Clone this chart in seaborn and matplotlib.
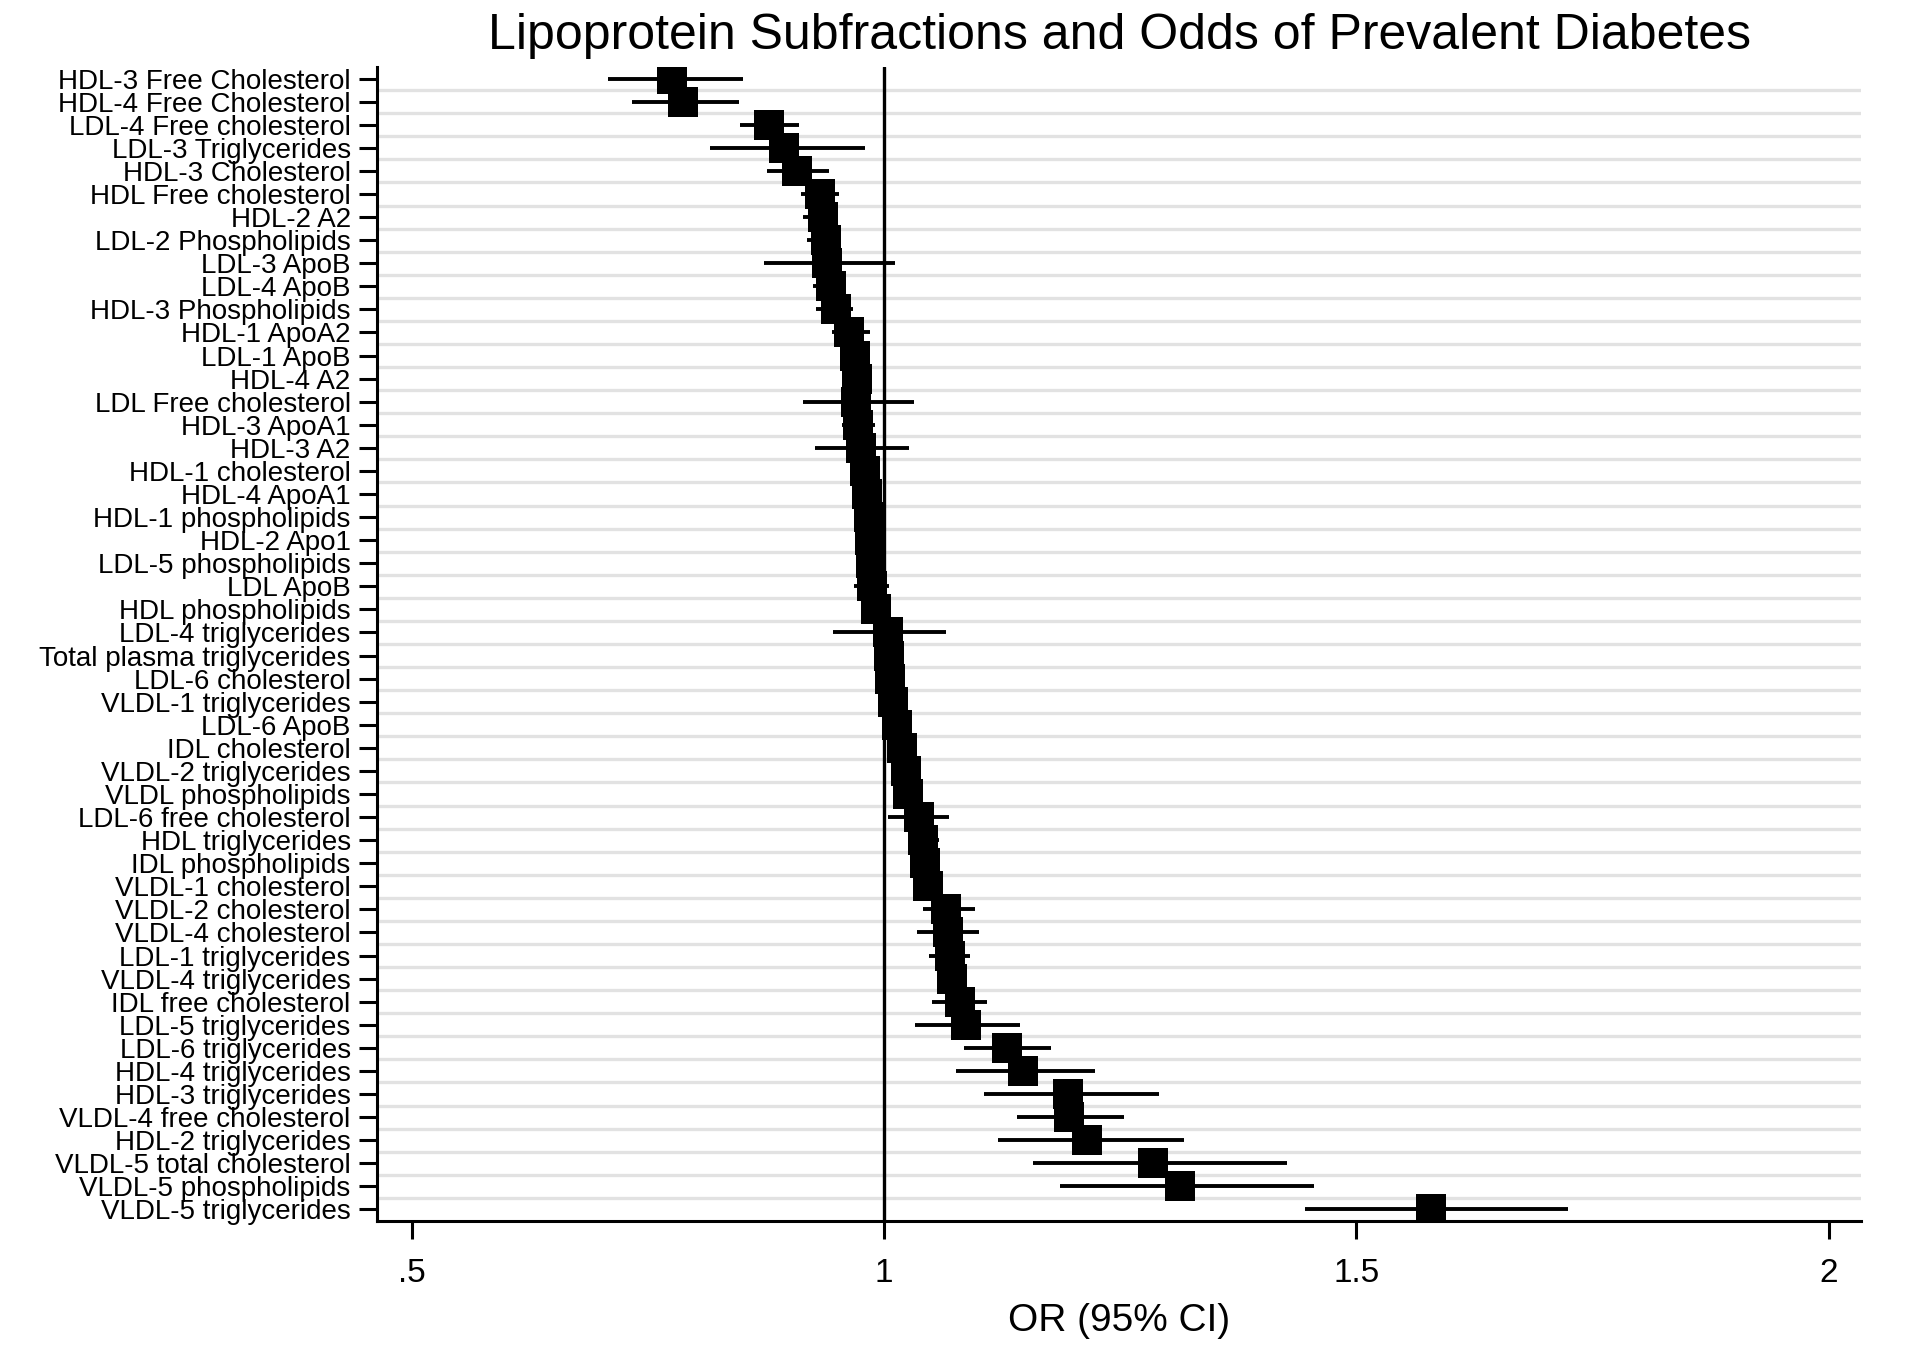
import numpy as np
import pandas as pd
import matplotlib
matplotlib.use("Agg")
import matplotlib.pyplot as plt
import seaborn as sns

# lipoprotein subfractions, top to bottom as plotted
labels = [
    "HDL-3 Free Cholesterol", "HDL-4 Free Cholesterol", "LDL-4 Free cholesterol",
    "LDL-3 Triglycerides", "HDL-3 Cholesterol", "HDL Free cholesterol", "HDL-2 A2",
    "LDL-2 Phospholipids", "LDL-3 ApoB", "LDL-4 ApoB", "HDL-3 Phospholipids",
    "HDL-1 ApoA2", "LDL-1 ApoB", "HDL-4 A2", "LDL Free cholesterol", "HDL-3 ApoA1",
    "HDL-3 A2", "HDL-1 cholesterol", "HDL-4 ApoA1", "HDL-1 phospholipids",
    "HDL-2 Apo1", "LDL-5 phospholipids", "LDL ApoB", "HDL phospholipids",
    "LDL-4 triglycerides", "Total plasma triglycerides", "LDL-6 cholesterol",
    "VLDL-1 triglycerides", "LDL-6 ApoB", "IDL cholesterol", "VLDL-2 triglycerides",
    "VLDL phospholipids", "LDL-6 free cholesterol", "HDL triglycerides",
    "IDL phospholipids", "VLDL-1 cholesterol", "VLDL-2 cholesterol",
    "VLDL-4 cholesterol", "LDL-1 triglycerides", "VLDL-4 triglycerides",
    "IDL free cholesterol", "LDL-5 triglycerides", "LDL-6 triglycerides",
    "HDL-4 triglycerides", "HDL-3 triglycerides", "VLDL-4 free cholesterol",
    "HDL-2 triglycerides", "VLDL-5 total cholesterol", "VLDL-5 phospholipids",
    "VLDL-5 triglycerides",
]

odds_ratio = [
    0.776, 0.787, 0.878, 0.894, 0.908, 0.932, 0.935, 0.939, 0.940, 0.944,
    0.949, 0.963, 0.969, 0.971, 0.970, 0.972, 0.976, 0.980, 0.982, 0.984,
    0.985, 0.986, 0.987, 0.991, 1.004, 1.005, 1.006, 1.009, 1.014, 1.019,
    1.023, 1.025, 1.037, 1.041, 1.043, 1.047, 1.066, 1.068, 1.070, 1.072,
    1.080, 1.087, 1.130, 1.147, 1.195, 1.196, 1.215, 1.285, 1.313, 1.579,
]

ci_low = [
    0.708, 0.733, 0.848, 0.816, 0.876, 0.912, 0.914, 0.918, 0.873, 0.925,
    0.928, 0.945, 0.955, 0.957, 0.914, 0.955, 0.927, 0.966, 0.968, 0.970,
    0.971, 0.972, 0.968, 0.977, 0.946, 0.991, 0.992, 0.995, 1.000, 1.005,
    1.009, 1.011, 1.004, 1.025, 1.029, 1.033, 1.041, 1.035, 1.048, 1.058,
    1.051, 1.033, 1.085, 1.076, 1.106, 1.141, 1.121, 1.158, 1.186, 1.445,
]

ci_high = [
    0.851, 0.846, 0.910, 0.980, 0.942, 0.952, 0.950, 0.954, 1.012, 0.960,
    0.967, 0.985, 0.983, 0.985, 1.032, 0.990, 1.026, 0.994, 0.996, 0.998,
    0.999, 1.000, 1.005, 1.005, 1.066, 1.019, 1.020, 1.023, 1.028, 1.033,
    1.037, 1.039, 1.069, 1.058, 1.057, 1.061, 1.096, 1.101, 1.091, 1.086,
    1.109, 1.144, 1.177, 1.223, 1.291, 1.254, 1.317, 1.426, 1.455, 1.724,
]

x_ticks = [0.5, 1, 1.5, 2]
x_tick_labels = [".5", "1", "1.5", "2"]

df = pd.DataFrame({"label": labels, "or_": odds_ratio,
                   "lo": ci_low, "hi": ci_high})
df["pos"] = np.arange(len(df))

sns.set_theme(style="white")
plt.rcParams["font.family"] = ["Liberation Sans", "DejaVu Sans"]

fig = plt.figure(figsize=(19.2, 13.46), dpi=100)
ax = fig.add_axes([0.1964, 0.0929, 0.7729, 0.8573])

# light separators between rows
ax.set_yticks(df["pos"].values[:-1] + 0.5, minor=True)
ax.grid(axis="y", which="minor", color="#e2e2e2", linewidth=2.4, zorder=0)
ax.grid(axis="y", which="major", visible=False)
ax.grid(axis="x", visible=False)
ax.set_axisbelow(True)

# null line
ax.axvline(1, color="black", linewidth=2.4, zorder=1)

# confidence intervals
ax.hlines(df["pos"], df["lo"], df["hi"], color="black", linewidth=2.8, zorder=2)

# point estimates
sns.scatterplot(data=df, x="or_", y="pos", marker="s", s=21 ** 2,
                color="black", linewidth=0, ax=ax, zorder=3, legend=False)

ax.set_xlim(0.4635, 2.034)
ax.set_ylim(len(df) - 0.5, -0.5)

ax.set_yticks(df["pos"])
ax.set_yticklabels(df["label"], fontsize=20)
ax.set_xticks(x_ticks)
ax.set_xticklabels(x_tick_labels, fontsize=24)

ax.tick_params(axis="y", which="major", left=True, length=13, width=2.2,
               pad=6, color="black", labelcolor="black")
ax.tick_params(axis="y", which="minor", left=False, length=0)
ax.tick_params(axis="x", bottom=True, length=13, width=2.2, pad=14,
               color="black", labelcolor="black")

ax.set_xlabel("OR (95% CI)", fontsize=28, labelpad=10, color="black")
ax.set_ylabel("")

for side in ["top", "right"]:
    ax.spines[side].set_visible(False)
for side in ["left", "bottom"]:
    ax.spines[side].set_color("black")
    ax.spines[side].set_linewidth(2.2)

fig.text(0.583, 0.9636, "Lipoprotein Subfractions and Odds of Prevalent Diabetes",
         ha="center", va="baseline", fontsize=36, color="black")

fig.savefig("out.png", dpi=100, facecolor="white")
